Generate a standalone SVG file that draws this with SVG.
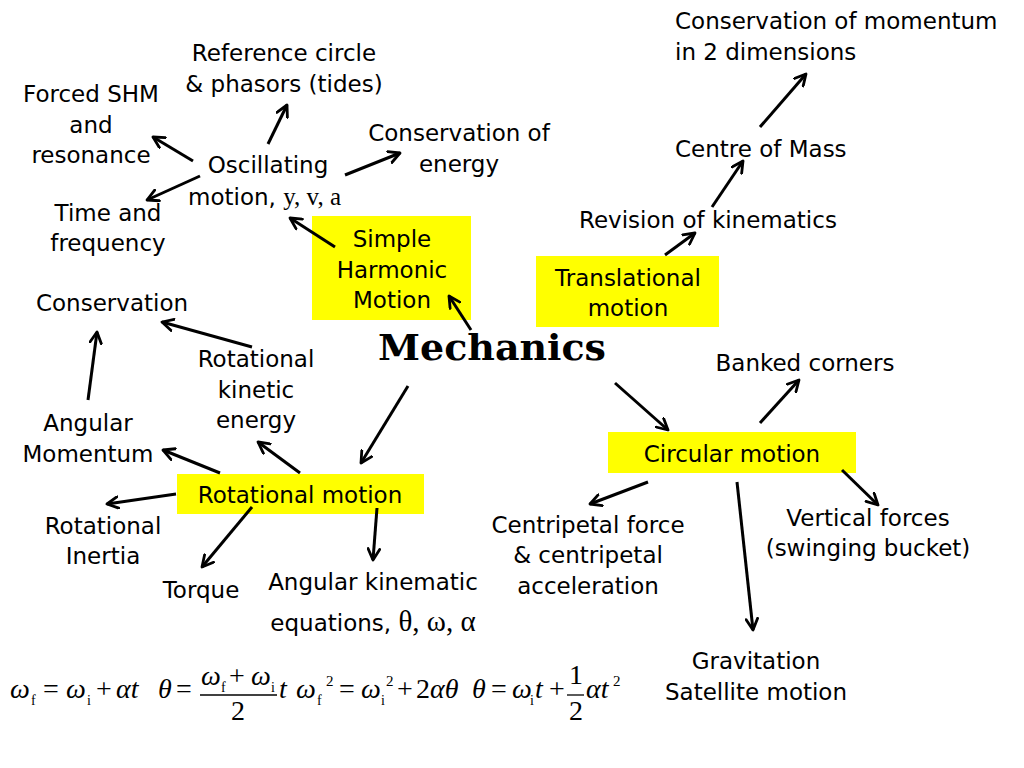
<svg xmlns="http://www.w3.org/2000/svg" width="1024" height="768" viewBox="0 0 1024 768">
<style>
  .t { font-family: "DejaVu Sans", "Noto Sans", sans-serif; font-size: 23px; fill: #000; }
  .m { text-anchor: middle; }
  .s { font-family: "Liberation Serif", "DejaVu Serif", serif; }
  .box { fill: #FFFF00; }
  .c line { stroke: #000; stroke-width: 3; marker-end: url(#ah); }
  .eq { font-family: "Liberation Serif", "Times New Roman", serif; font-size: 28px; fill: #000; }
  .i { font-style: italic; }
  .sb { font-size: 14px; }
  .sp { font-size: 15px; }
  .title { font-family: "DejaVu Serif", "Liberation Serif", serif; font-weight: bold; font-size: 35px; fill: #000; }
</style>
<defs>
  <marker id="ah" viewBox="0 0 12 12" refX="10.5" refY="6" markerWidth="14" markerHeight="14" markerUnits="userSpaceOnUse" orient="auto">
    <path d="M1,1 L10.5,6 L1,11" fill="none" stroke="#000" stroke-width="2.4" stroke-linecap="round" stroke-linejoin="round"/>
  </marker>
</defs>
<rect width="1024" height="768" fill="#fff"/>

<g id="shm">
  <rect class="box" x="312" y="216" width="159" height="104"/>
  <text class="t m" x="392" y="247">Simple</text>
  <text class="t m" x="392" y="278">Harmonic</text>
  <text class="t m" x="392" y="308">Motion</text>
</g>
<g id="translational">
  <rect class="box" x="536" y="256" width="183" height="71"/>
  <text class="t m" x="628" y="286">Translational</text>
  <text class="t m" x="628" y="316">motion</text>
</g>
<g id="rotational">
  <rect class="box" x="177" y="474" width="247" height="40"/>
  <text class="t m" x="300" y="503">Rotational motion</text>
</g>
<g id="circular">
  <rect class="box" x="608" y="432" width="248" height="41"/>
  <text class="t m" x="732" y="462">Circular motion</text>
</g>

<g id="mechanics">
  <text class="title m" x="492" y="360" textLength="228" lengthAdjust="spacingAndGlyphs">Mechanics</text>
</g>

<g id="cons-momentum">
  <text class="t" x="675" y="29">Conservation of momentum</text>
  <text class="t" x="675" y="60">in 2 dimensions</text>
</g>
<g id="centre-mass"><text class="t" x="675" y="157">Centre of Mass</text></g>
<g id="revision"><text class="t" x="579" y="228">Revision of kinematics</text></g>

<g id="reference">
  <text class="t m" x="284" y="61">Reference circle</text>
  <text class="t m" x="284" y="92">&amp; phasors (tides)</text>
</g>
<g id="forced">
  <text class="t m" x="91" y="102">Forced SHM</text>
  <text class="t m" x="91" y="133">and</text>
  <text class="t m" x="91" y="163">resonance</text>
</g>
<g id="oscillating">
  <text class="t m" x="268" y="173">Oscillating</text>
  <text class="t" x="188" y="205">motion, <tspan class="s" font-size="25">y, v, a</tspan></text>
</g>
<g id="time">
  <text class="t m" x="108" y="221">Time and</text>
  <text class="t m" x="108" y="251">frequency</text>
</g>
<g id="cons-energy">
  <text class="t m" x="459" y="141">Conservation of</text>
  <text class="t m" x="459" y="172">energy</text>
</g>

<g id="conservation"><text class="t m" x="112" y="311">Conservation</text></g>
<g id="rke">
  <text class="t m" x="256" y="367">Rotational</text>
  <text class="t m" x="256" y="398">kinetic</text>
  <text class="t m" x="256" y="428">energy</text>
</g>
<g id="angmom">
  <text class="t m" x="88" y="431">Angular</text>
  <text class="t m" x="88" y="462">Momentum</text>
</g>
<g id="inertia">
  <text class="t m" x="103" y="534">Rotational</text>
  <text class="t m" x="103" y="564">Inertia</text>
</g>
<g id="torque"><text class="t m" x="201" y="598">Torque</text></g>
<g id="angkin">
  <text class="t m" x="373" y="590">Angular kinematic</text>
  <text class="t m" x="373" y="631">equations, <tspan class="s" font-size="29">θ, ω, α</tspan></text>
</g>

<g id="banked"><text class="t m" x="805" y="371">Banked corners</text></g>
<g id="centripetal">
  <text class="t m" x="588" y="533">Centripetal force</text>
  <text class="t m" x="588" y="563">&amp; centripetal</text>
  <text class="t m" x="588" y="594">acceleration</text>
</g>
<g id="vertical">
  <text class="t m" x="868" y="526">Vertical forces</text>
  <text class="t m" x="868" y="556">(swinging bucket)</text>
</g>
<g id="gravitation">
  <text class="t m" x="756" y="669">Gravitation</text>
  <text class="t m" x="756" y="700">Satellite motion</text>
</g>

<g id="equations">
  <text class="eq"><tspan class="i" x="10" y="698">ω</tspan><tspan class="sb" x="31" y="705">f</tspan><tspan x="43" y="698">=</tspan><tspan class="i" x="66" y="698">ω</tspan><tspan class="sb" x="87" y="705">i</tspan><tspan x="96" y="698">+</tspan><tspan class="i" x="116" y="698">αt</tspan><tspan class="i" x="158" y="698">θ</tspan><tspan x="176" y="698">=</tspan><tspan class="i" x="201" y="685">ω</tspan><tspan class="sb" x="221" y="692">f</tspan><tspan x="229" y="685">+</tspan><tspan class="i" x="251" y="685">ω</tspan><tspan class="sb" x="271" y="692">i</tspan><tspan x="231" y="720">2</tspan><tspan class="i" x="279" y="698">t</tspan><tspan class="i" x="296" y="698">ω</tspan><tspan class="sb" x="317" y="705">f</tspan><tspan class="sp" x="326" y="686">2</tspan><tspan x="339" y="698">=</tspan><tspan class="i" x="361" y="698">ω</tspan><tspan class="sb" x="381" y="705">i</tspan><tspan class="sp" x="386" y="686">2</tspan><tspan x="397" y="698">+</tspan><tspan x="416" y="698">2</tspan><tspan class="i">αθ</tspan><tspan class="i" x="472" y="698">θ</tspan><tspan x="491" y="698">=</tspan><tspan class="i" x="512" y="698">ω</tspan><tspan class="sb" x="530" y="705">i</tspan><tspan class="i" x="535" y="698">t</tspan><tspan x="549" y="698">+</tspan><tspan x="569" y="684">1</tspan><tspan x="569" y="720">2</tspan><tspan class="i" x="586" y="698">αt</tspan><tspan class="sp" x="613" y="686">2</tspan></text>
  <line x1="200" y1="695" x2="277" y2="695" stroke="#000" stroke-width="1.3"/>
  <line x1="567" y1="695" x2="584" y2="695" stroke="#000" stroke-width="1.3"/>
</g>

<g id="connectors" class="c">
  <line x1="760" y1="127" x2="806" y2="74"/>
  <line x1="712" y1="207" x2="743" y2="161"/>
  <line x1="665" y1="255" x2="695" y2="233"/>
  <line x1="268" y1="144" x2="287" y2="105"/>
  <line x1="193" y1="161" x2="153" y2="137"/>
  <line x1="200" y1="176" x2="147" y2="200"/>
  <line x1="345" y1="175" x2="400" y2="153"/>
  <line x1="335" y1="247" x2="290" y2="218"/>
  <line x1="471" y1="330" x2="449" y2="296"/>
  <line x1="252" y1="347" x2="162" y2="322"/>
  <line x1="88" y1="400" x2="97" y2="332"/>
  <line x1="220" y1="473" x2="163" y2="450"/>
  <line x1="300" y1="473" x2="258" y2="442"/>
  <line x1="408" y1="386" x2="361" y2="463"/>
  <line x1="176" y1="494" x2="107" y2="504"/>
  <line x1="252" y1="507" x2="202" y2="567"/>
  <line x1="377" y1="508" x2="373" y2="560"/>
  <line x1="615" y1="383" x2="668" y2="430"/>
  <line x1="760" y1="423" x2="799" y2="380"/>
  <line x1="648" y1="482" x2="590" y2="504"/>
  <line x1="737" y1="482" x2="753" y2="630"/>
  <line x1="842" y1="470" x2="878" y2="505"/>
</g>
</svg>
